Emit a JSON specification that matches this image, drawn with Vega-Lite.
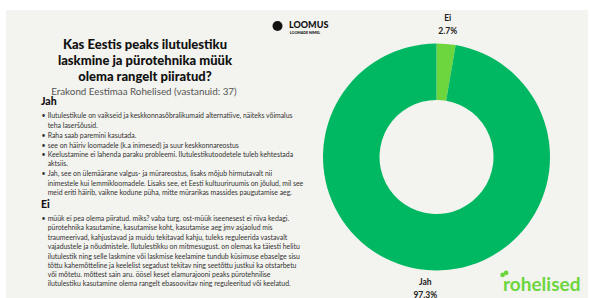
{
  "$schema": "https://vega.github.io/schema/vega-lite/v6.json",
  "width": 582,
  "height": 288,
  "autosize": {"type": "none"},
  "padding": {"top": 10, "left": 6, "right": 2, "bottom": 0},
  "background": "#ffffff",
  "config": {"view": {"fill": "#f3f3ef", "stroke": null}, "font": "Lato"},
  "datasets": {
    "votes": [
      {"answer": "Ei", "share": 0.027},
      {"answer": "Jah", "share": 0.973}
    ],
    "lines": [
      {"kind": "title", "line": 3.65, "text": "Kas Eestis peaks ilutulestiku"},
      {"kind": "title", "line": 5.31, "text": "laskmine ja pürotehnika müük"},
      {"kind": "title", "line": 6.98, "text": "olema rangelt piiratud?"},
      {"kind": "subtitle", "line": 8.54, "text": "Erakond Eestimaa Rohelised (vastanuid: 37)"},
      {"kind": "head", "line": 9.58, "text": "Jah"},
      {"kind": "body", "line": 11.01, "bullet": true, "text": "Ilutulestikule on vaikseid ja keskkonnasõbralikumaid alternatiive, näiteks võimalus"},
      {"kind": "body", "line": 12.05, "bullet": false, "text": "teha laseršõusid."},
      {"kind": "body", "line": 13.09, "bullet": true, "text": "Raha saab paremini kasutada."},
      {"kind": "body", "line": 14.14, "bullet": true, "text": "see on häiriv loomadele (k.a inimesed) ja suur keskkonnareostus"},
      {"kind": "body", "line": 15.14, "bullet": true, "text": "Keelustamine ei lahenda paraku probleemi. Ilutulestikutoodetele tuleb kehtestada"},
      {"kind": "body", "line": 16.07, "bullet": false, "text": "aktsiis."},
      {"kind": "body", "line": 17.11, "bullet": true, "text": "Jah, see on ülemäärane valgus- ja mürareostus, lisaks mõjub hirmutavalt nii"},
      {"kind": "body", "line": 18.09, "bullet": false, "text": "inimestele kui lemmikloomadele. Lisaks see, et Eesti kultuuriruumis on jõulud, mil see"},
      {"kind": "body", "line": 19.06, "bullet": false, "text": "meid eriti häirib, vaikne kodune püha, mitte mürarikas massides paugutamise aeg."},
      {"kind": "head", "line": 20.31, "text": "Ei"},
      {"kind": "body", "line": 21.77, "bullet": true, "text": "müük ei pea olema piiratud. miks? vaba turg. ost-müük iseenesest ei riiva kedagi."},
      {"kind": "body", "line": 22.74, "bullet": false, "text": "pürotehnika kasutamine, kasutamise koht, kasutamise aeg jmv asjaolud mis"},
      {"kind": "body", "line": 23.72, "bullet": false, "text": "traumeerivad, kahjustavad ja muidu tekitavad kahju, tuleks reguleerida vastavalt"},
      {"kind": "body", "line": 24.72, "bullet": false, "text": "vajadustele ja nõudmistele. Ilutulestikku on mitmesugust. on olemas ka täiesti helitu"},
      {"kind": "body", "line": 25.7, "bullet": false, "text": "ilutulestik ning selle laskmine või laskmise keelamine tundub küsimuse ebaselge sisu"},
      {"kind": "body", "line": 26.64, "bullet": false, "text": "tõttu kahemõtteline ja keelelist segadust tekitav ning seetõttu justkui ka otstarbetu"},
      {"kind": "body", "line": 27.6, "bullet": false, "text": "või mõtetu. mõttest sain aru. öösel keset elamurajooni peaks pürotehnilise"},
      {"kind": "body", "line": 28.57, "bullet": false, "text": "ilutulestiku kasutamine olema rangelt ebasoovitav ning reguleeritud või keelatud."}
    ]
  },
  "layer": [
    {
      "data": {"name": "votes"},
      "mark": {"type": "arc", "innerRadius": 57, "outerRadius": 113.5},
      "encoding": {
        "x": {"datum": 73.97, "type": "quantitative", "scale": {"domain": [0, 100], "nice": false, "zero": false}, "axis": null},
        "y": {"datum": 15.31, "type": "quantitative", "scale": {"domain": [0, 30], "nice": false, "zero": false, "reverse": true}, "axis": null},
        "theta": {"field": "share", "type": "quantitative", "stack": true},
        "order": {"field": "answer", "type": "ordinal", "sort": "ascending"},
        "color": {"field": "answer", "type": "nominal", "scale": {"domain": ["Ei", "Jah"], "range": ["#6dd63e", "#00b862"]}, "legend": null}
      }
    },
    {
      "data": {"name": "votes"},
      "mark": {"type": "text", "radius": 132.5, "dy": -6.5, "fontSize": 8.5, "fontWeight": "bold", "color": "#222222", "baseline": "middle"},
      "encoding": {
        "x": {"datum": 73.97, "type": "quantitative"},
        "y": {"datum": 15.31, "type": "quantitative"},
        "theta": {"field": "share", "type": "quantitative", "stack": true},
        "order": {"field": "answer", "type": "ordinal", "sort": "ascending"},
        "detail": {"field": "answer"},
        "text": {"field": "answer"}
      }
    },
    {
      "data": {"name": "votes"},
      "mark": {"type": "text", "radius": 132.5, "dy": 6.5, "fontSize": 8.5, "fontWeight": "bold", "color": "#222222", "baseline": "middle"},
      "encoding": {
        "x": {"datum": 73.97, "type": "quantitative"},
        "y": {"datum": 15.31, "type": "quantitative"},
        "theta": {"field": "share", "type": "quantitative", "stack": true},
        "order": {"field": "answer", "type": "ordinal", "sort": "ascending"},
        "detail": {"field": "answer"},
        "text": {"field": "share", "type": "quantitative", "format": ".1%"}
      }
    },
    {
      "data": {"name": "lines"},
      "transform": [{"filter": "datum.kind === 'title'"}],
      "mark": {"type": "text", "align": "center", "baseline": "middle", "fontSize": 13, "fontWeight": 900, "color": "#111111"},
      "encoding": {
        "x": {"datum": 23.88, "type": "quantitative"},
        "y": {"field": "line", "type": "quantitative"},
        "text": {"field": "text"}
      }
    },
    {
      "data": {"name": "lines"},
      "transform": [{"filter": "datum.kind === 'subtitle'"}],
      "mark": {"type": "text", "align": "center", "baseline": "middle", "fontSize": 9.8, "color": "#555555"},
      "encoding": {
        "x": {"datum": 23.7, "type": "quantitative"},
        "y": {"field": "line", "type": "quantitative"},
        "text": {"field": "text"}
      }
    },
    {
      "data": {"name": "lines"},
      "transform": [{"filter": "datum.kind === 'head'"}],
      "mark": {"type": "text", "align": "left", "baseline": "middle", "fontSize": 10.5, "fontWeight": 900, "color": "#111111"},
      "encoding": {
        "x": {"datum": 6.01, "type": "quantitative"},
        "y": {"field": "line", "type": "quantitative"},
        "text": {"field": "text"}
      }
    },
    {
      "data": {"name": "lines"},
      "transform": [{"filter": "datum.kind === 'body' && datum.bullet"}],
      "mark": {"type": "text", "align": "center", "baseline": "middle", "fontSize": 7, "color": "#333333", "text": "•"},
      "encoding": {
        "x": {"datum": 6.45, "type": "quantitative"},
        "y": {"field": "line", "type": "quantitative"}
      }
    },
    {
      "data": {"name": "lines"},
      "transform": [{"filter": "datum.kind === 'body'"}],
      "mark": {"type": "text", "align": "left", "baseline": "middle", "fontSize": 6.9, "color": "#333333"},
      "encoding": {
        "x": {"datum": 7.16, "type": "quantitative"},
        "y": {"field": "line", "type": "quantitative"},
        "text": {"field": "text"}
      }
    },
    {
      "data": {"values": [{"icon": "LOOMUS"}]},
      "mark": {"type": "point", "shape": "circle", "filled": true, "size": 100, "color": "#111111", "opacity": 1},
      "encoding": {
        "x": {"datum": 46.65, "type": "quantitative"},
        "y": {"datum": 1.67, "type": "quantitative"}
      }
    },
    {
      "data": {"values": [{"t": "LOOMUS"}]},
      "mark": {"type": "text", "align": "left", "baseline": "middle", "fontSize": 9, "fontWeight": 900, "color": "#111111"},
      "encoding": {
        "x": {"datum": 48.63, "type": "quantitative"},
        "y": {"datum": 1.6, "type": "quantitative"},
        "text": {"field": "t"}
      }
    },
    {
      "data": {"values": [{"t": "LOOMADE NIMEL"}]},
      "mark": {"type": "text", "align": "left", "baseline": "middle", "fontSize": 3.6, "fontWeight": 900, "color": "#111111"},
      "encoding": {
        "x": {"datum": 48.75, "type": "quantitative"},
        "y": {"datum": 2.42, "type": "quantitative"},
        "text": {"field": "t"}
      }
    },
    {
      "data": {"values": [{"leaf": "left"}, {"leaf": "right"}]},
      "mark": {"type": "point", "shape": "circle", "filled": true, "size": 22, "color": "#6dd63e", "opacity": 1},
      "encoding": {
        "x": {"datum": 85.2, "type": "quantitative"},
        "y": {"datum": 27.6, "type": "quantitative"},
        "xOffset": {"field": "leaf", "type": "nominal", "scale": {"range": [-1, 6]}},
        "yOffset": {"field": "leaf", "type": "nominal", "scale": {"range": [1, -3]}}
      }
    },
    {
      "data": {"values": [{"t": "rohelised"}]},
      "mark": {"type": "text", "align": "left", "baseline": "middle", "fontSize": 19, "fontWeight": "bold", "color": "#6dd63e"},
      "encoding": {
        "x": {"datum": 85.4, "type": "quantitative"},
        "y": {"datum": 28.6, "type": "quantitative"},
        "text": {"field": "t"}
      }
    }
  ]
}
